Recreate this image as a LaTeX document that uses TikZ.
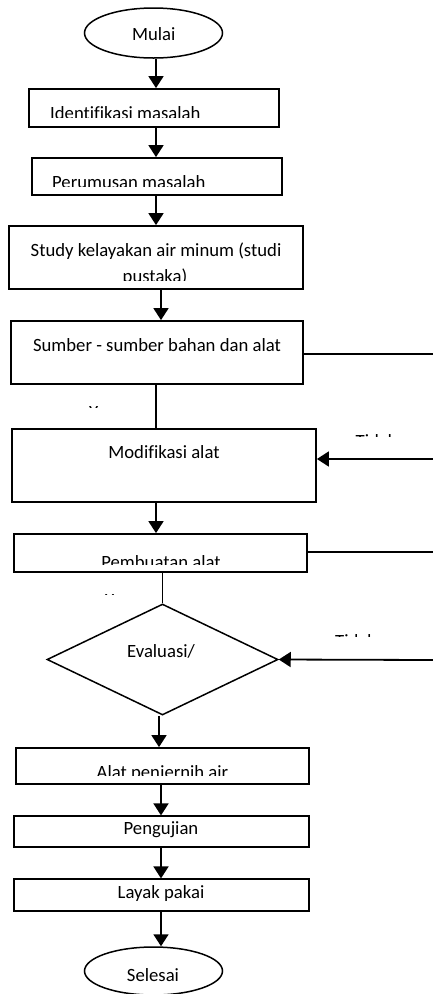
\documentclass[tikz,border=0pt]{standalone}
\usepackage{fontspec}
\setmainfont{Carlito}[Ligatures=NoCommon]
\usetikzlibrary{shapes.geometric,arrows.meta}
\begin{document}
\begin{tikzpicture}[x=1pt,y=-1pt,
  every node/.style={font=\fontsize{18.7}{22}\selectfont},
  box/.style={draw,line width=1.8pt,rectangle,inner sep=0pt},
  thinbox/.style={draw,line width=1.2pt,rectangle,inner sep=0pt},
  term/.style={draw,line width=1.5pt,ellipse,inner sep=0pt},
  dec/.style={draw,line width=1.5pt,diamond,inner sep=0pt,aspect=2.1},
  txt/.style={inner sep=0pt,anchor=base},
  txtw/.style={inner sep=0pt,anchor=base west},
  arr/.style={line width=1.8pt,-{Triangle[width=15pt,length=12pt]}},
  ln/.style={line width=1.8pt}]
\useasboundingbox (0,0) rectangle (433,994);
% terminals
\node[term,minimum width=138pt,minimum height=50pt] (mulai) at (153.5,33) {};
\node[txt] (tmulai) at (153.7,40) {Mulai};
\node[term,minimum width=138pt,minimum height=48pt] (selesai) at (153.5,971) {};
\node[txt] (tselesai) at (153,981) {Selesai};
% boxes
\node[box,minimum width=250pt,minimum height=38pt] (ident) at (154,108) {};
\node[box,minimum width=250pt,minimum height=37pt] (perum) at (157,176.5) {};
\node[box,minimum width=294pt,minimum height=63pt] (study) at (156,257.5) {};
\node[box,minimum width=292pt,minimum height=63pt] (sumber) at (157,352.5) {};
\node[box,minimum width=304pt,minimum height=73pt] (modif) at (164,465.5) {};
\node[box,minimum width=293pt,minimum height=38pt] (buat) at (160.5,553) {};
\node[dec,minimum width=231pt,minimum height=111pt] (eval) at (162.5,659.5) {};
\node[box,minimum width=293pt,minimum height=36pt] (alat) at (162.5,766) {};
\node[thinbox,minimum width=295pt,minimum height=31pt] (uji) at (161.5,831.5) {};
\node[thinbox,minimum width=295pt,minimum height=32pt] (layak) at (161.5,895) {};
% texts
\begin{scope}\clip (29,89) rectangle (279,117.5);
\node[txtw] (tident) at (50,119) {Identifikasi masalah};\end{scope}
\begin{scope}\clip (32,158) rectangle (282,186);
\node[txtw] (tperum) at (52,188) {Perumusan masalah};\end{scope}
\node[txt] (tstudy) at (156,256) {Study kelayakan air minum (studi};
\begin{scope}\clip (9,262) rectangle (303,280.5);
\node[txt] (tstudyb) at (155,282.5) {pustaka)};\end{scope}
\node[txt] (tsumber) at (157,351) {Sumber - sumber bahan dan alat};
\node[txt] (tmodif) at (164,458) {Modifikasi alat};
\begin{scope}\clip (14,534) rectangle (307,564.5);
\node[txt] (tbuat) at (161,568) {Pembuatan alat};\end{scope}
\node[txt] (teval) at (161,657) {Evaluasi/};
\begin{scope}\clip (16,748) rectangle (309,775.5);
\node[txt] (talat) at (162.5,778) {Alat penjernih air};\end{scope}
\node[txt] (tuji) at (161,834) {Pengujian};
\node[txt] (tlayak) at (161,898) {Layak pakai};
% clipped labels
\begin{scope}\clip (80,400) rectangle (120,407);
\node[txtw] (ya1) at (89,418.5) {Ya};\end{scope}
\begin{scope}\clip (345,425) rectangle (410,436.5);
\node[txtw] (tidak1) at (355.5,447.5) {Tidak};\end{scope}
\begin{scope}\clip (95,585) rectangle (135,594.5);
\node[txtw] (ya2) at (105,606) {Ya};\end{scope}
\begin{scope}\clip (325,625) rectangle (390,636.5);
\node[txtw] (tidak2) at (335,647.5) {Tidak};\end{scope}
% coordinates for free ends and connector columns
\coordinate (r1) at (433,354);
\coordinate (r2) at (433,459);
\coordinate (r3) at (433,552);
\coordinate (r4) at (433,660);
\coordinate (c156) at (156,0);
\coordinate (c159) at (159,0);
\coordinate (c161) at (161,0);
\coordinate (c162) at (162,0);
% connectors
\draw[arr] (mulai.south -| c156) -- (ident.north -| c156);
\draw[arr] (ident.south -| c156) -- (perum.north -| c156);
\draw[arr] (perum.south -| c156) -- (study.north -| c156);
\draw[arr] (study.south -| c161) -- (sumber.north -| c161);
\draw[ln] (sumber.south -| c156) -- (modif.north -| c156);
\draw[ln] (sumber.east |- r1) -- (r1);
\draw[arr] (r2) -- (modif.east |- r2);
\draw[arr] (modif.south -| c156) -- (buat.north -| c156);
\draw[ln] (buat.east |- r3) -- (r3);
\draw[ln] (buat.south -| eval.north) -- (eval.north);
\draw[arr] (r4) -- (eval.east);
\draw[arr] (eval.south -| c159) -- (alat.north -| c159);
\draw[arr] (alat.south -| c161) -- (uji.north -| c161);
\draw[arr] (uji.south -| c161) -- (layak.north -| c161);
\draw[arr] (layak.south -| c161) -- (selesai.north -| c161);
\end{tikzpicture}
\end{document}
